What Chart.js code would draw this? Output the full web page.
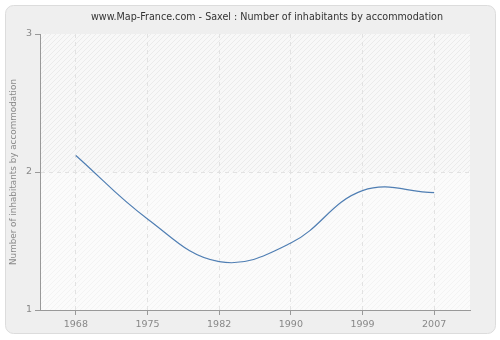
<!DOCTYPE html>
<html>
<head>
    <title>Saxel : Number of inhabitants by accommodation</title>
    <script src="https://cdn.jsdelivr.net/npm/chart.js"></script>
    <style>
        body { margin: 0; background: #ffffff; }
        canvas { display: block; }
    </style>
</head>
<body>
<canvas id="popChart" width="500" height="340"></canvas>
<script>
    const years = ['1968', '1975', '1982', '1990', '1999', '2007'];
    const inhabitants = [2.12, 1.66, 1.35, 1.485, 1.865, 1.85];
    const yTicks = [1, 2, 3];
    const chartTitle = 'www.Map-France.com - Saxel : Number of inhabitants by accommodation';
    const yTitle = 'Number of inhabitants by accommodation';

    function hatch(bg, line) {
        const c = document.createElement('canvas');
        c.width = 5; c.height = 5;
        const g = c.getContext('2d');
        g.fillStyle = bg;
        g.fillRect(0, 0, 5, 5);
        g.strokeStyle = line;
        g.lineWidth = 1;
        g.beginPath();
        g.moveTo(-1, 6); g.lineTo(6, -1);
        g.moveTo(-1, 1); g.lineTo(1, -1);
        g.moveTo(4, 6); g.lineTo(6, 4);
        g.stroke();
        return g.createPattern(c, 'repeat');
    }

    // panel, plot background and title
    const backdrop = {
        id: 'backdrop',
        beforeDraw(chart) {
            const {ctx, chartArea: a, scales: {y}} = chart;
            ctx.save();
            ctx.fillStyle = '#efefef';
            ctx.strokeStyle = '#dcdcdc';
            ctx.beginPath();
            ctx.roundRect(5.5, 5.5, 490, 328, 8);
            ctx.fill();
            ctx.stroke();

            const mid = y.getPixelForValue(2);
            ctx.fillStyle = hatch('#f8f8f8', '#ebebeb');
            ctx.fillRect(a.left, a.top, a.right - a.left, mid - a.top);
            ctx.fillStyle = hatch('#fbfbfb', '#f3f3f3');
            ctx.fillRect(a.left, mid, a.right - a.left, a.bottom - mid);

            ctx.fillStyle = '#333333';
            ctx.font = '11px "DejaVu Sans Condensed", "Liberation Sans Narrow", "DejaVu Sans"';
            ctx.textAlign = 'center';
            ctx.textBaseline = 'middle';
            ctx.fillText(chartTitle, 267, 17, 352);
            ctx.restore();
        }
    };

    new Chart(document.getElementById('popChart').getContext('2d'), {
        type: 'line',
        data: {
            labels: years,
            datasets: [{
                data: inhabitants,
                borderColor: '#4f7eb3',
                borderWidth: 1.2,
                pointRadius: 0,
                tension: 0.4,
                fill: false
            }]
        },
        options: {
            responsive: false,
            animation: false,
            layout: { padding: { top: 34, right: 30, left: 0, bottom: 0 } },
            plugins: {
                legend: { display: false },
                tooltip: { enabled: false }
            },
            scales: {
                x: {
                    offset: true,
                    afterFit: s => { s.height = 30; },
                    grid: {
                        color: '#e2e2e2',
                        tickColor: '#999999',
                        tickLength: 5,
                        offset: false
                    },
                    border: { display: true, color: '#999999', dash: [4, 4] },
                    ticks: {
                        color: '#888888',
                        padding: 4,
                        font: { family: 'DejaVu Sans', size: 9.5 }
                    }
                },
                y: {
                    min: 1,
                    max: 3,
                    afterFit: s => { s.width = 40; },
                    afterBuildTicks: s => { s.ticks = yTicks.map(v => ({ value: v })); },
                    grid: {
                        color: ctx => ctx.tick && ctx.tick.value === 2 ? '#e2e2e2' : 'rgba(0,0,0,0)',
                        tickColor: '#999999',
                        tickLength: 5
                    },
                    border: { display: true, color: '#999999', dash: [4, 4] },
                    ticks: {
                        color: '#888888',
                        padding: 3,
                        font: { family: 'DejaVu Sans', size: 9.5 }
                    },
                    title: {
                        display: true,
                        text: yTitle,
                        color: '#888888',
                        padding: { top: 8, bottom: 0 },
                        font: { family: 'DejaVu Sans', size: 8.8 }
                    }
                }
            }
        },
        plugins: [backdrop]
    });
</script>
</body>
</html>
